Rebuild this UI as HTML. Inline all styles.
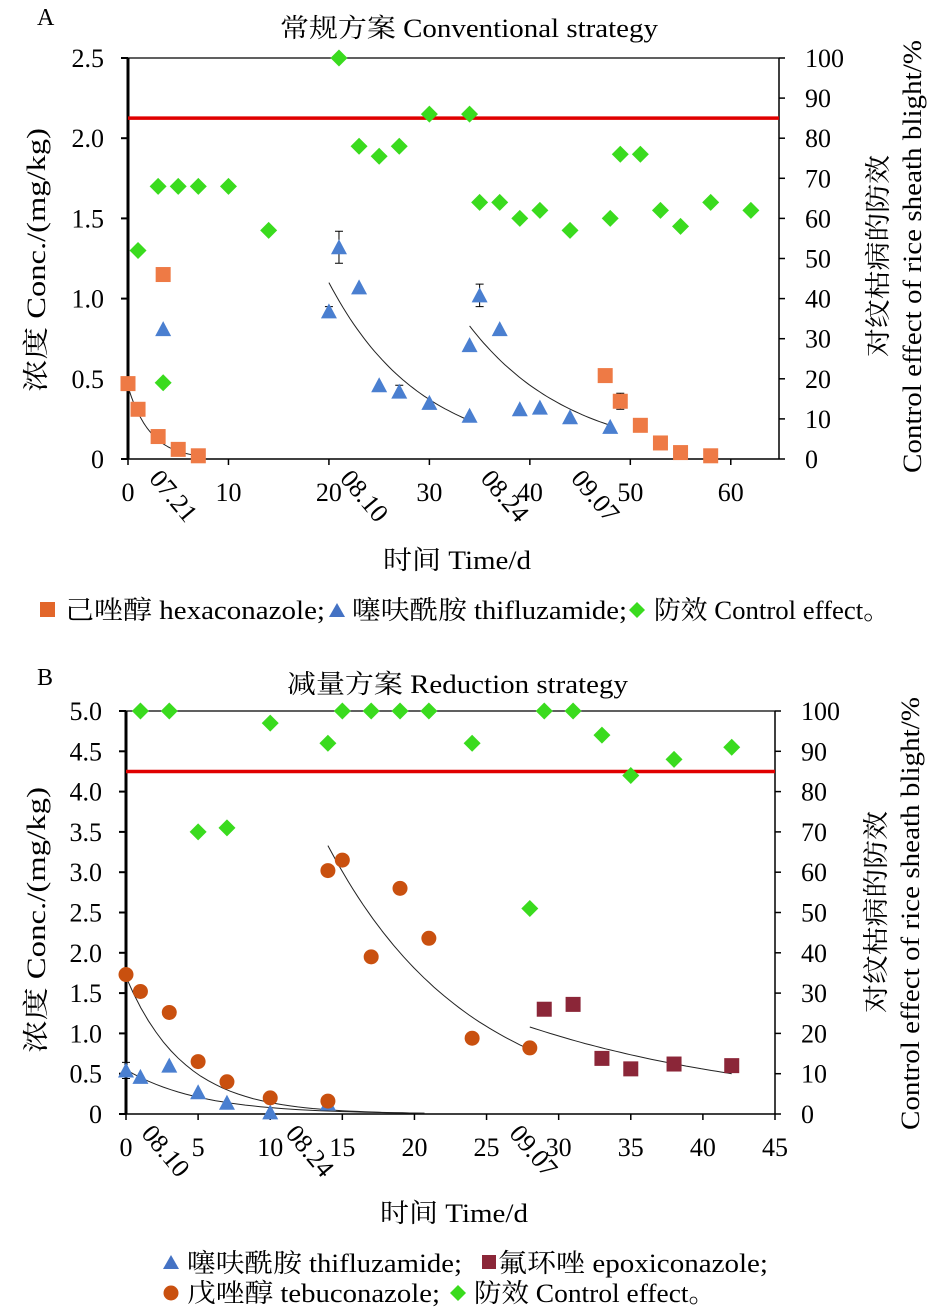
<!DOCTYPE html>
<html><head><meta charset="utf-8"><style>
body{margin:0;background:#fff}
svg{display:block;font-family:"Liberation Serif","Noto Serif CJK SC","Noto Sans CJK SC",serif}
</style></head><body>
<svg id="s" width="945" height="1311" viewBox="0 0 945 1311">
<text x="37" y="25" font-size="24">A</text>
<text x="280" y="37" font-size="26" textLength="378" lengthAdjust="spacingAndGlyphs">常规方案 Conventional strategy</text>
<text x="37" y="685" font-size="24">B</text>
<text x="287" y="693" font-size="26" textLength="341" lengthAdjust="spacingAndGlyphs">减量方案 Reduction strategy</text>
<text transform="translate(45,392) rotate(-90)" font-size="26" textLength="264" lengthAdjust="spacingAndGlyphs">浓度 Conc./(mg/kg)</text>
<text transform="translate(887,357) rotate(-90)" font-size="26" textLength="202" lengthAdjust="spacingAndGlyphs">对纹枯病的防效</text>
<text transform="translate(921,473) rotate(-90)" font-size="26" textLength="433" lengthAdjust="spacingAndGlyphs">Control effect of rice sheath blight/%</text>
<text x="383" y="569" font-size="26" textLength="148" lengthAdjust="spacingAndGlyphs">时间 Time/d</text>
<text transform="translate(45,1053) rotate(-90)" font-size="26" textLength="266" lengthAdjust="spacingAndGlyphs">浓度 Conc./(mg/kg)</text>
<text transform="translate(885,1013) rotate(-90)" font-size="26" textLength="202" lengthAdjust="spacingAndGlyphs">对纹枯病的防效</text>
<text transform="translate(919,1130) rotate(-90)" font-size="26" textLength="433" lengthAdjust="spacingAndGlyphs">Control effect of rice sheath blight/%</text>
<text x="380" y="1222" font-size="26" textLength="148" lengthAdjust="spacingAndGlyphs">时间 Time/d</text>
<!-- legends -->
<rect x="40" y="602" width="15" height="15" fill="#E2662A"/>
<text x="65" y="619" font-size="26" textLength="260" lengthAdjust="spacingAndGlyphs">己唑醇 hexaconazole;</text>
<polygon points="337,603 345,617 329,617" fill="#4472C4"/>
<text x="352" y="619" font-size="26" textLength="275" lengthAdjust="spacingAndGlyphs">噻呋酰胺 thifluzamide;</text>
<polygon points="637,602 645,610 637,618 629,610" fill="#3ADB1E"/>
<text x="654" y="619" font-size="26" textLength="236" lengthAdjust="spacingAndGlyphs">防效 Control effect。</text>
<polygon points="171,1255 179,1269 163,1269" fill="#4472C4"/>
<text x="187" y="1272" font-size="26" textLength="275" lengthAdjust="spacingAndGlyphs">噻呋酰胺 thifluzamide;</text>
<rect x="482" y="1255" width="14" height="14" fill="#8B2638"/>
<text x="498" y="1272" font-size="26" textLength="270" lengthAdjust="spacingAndGlyphs">氟环唑 epoxiconazole;</text>
<circle cx="171" cy="1293" r="7.5" fill="#C9500F"/>
<text x="187" y="1302" font-size="26" textLength="253" lengthAdjust="spacingAndGlyphs">戊唑醇 tebuconazole;</text>
<polygon points="458,1285 466,1293 458,1301 450,1293" fill="#3ADB1E"/>
<text x="474" y="1302" font-size="26" textLength="242" lengthAdjust="spacingAndGlyphs">防效 Control effect。</text>
<g id="ga"></g><g id="gb"></g>
</svg>
<script>
// ---- Chart A data ----
const aHexX=[0,1,3,5,7,3.5,47.5,49,51,53,55,58];
const aHexY=[0.47,0.31,0.14,0.06,0.02,1.15,0.52,0.36,0.21,0.10,0.04,0.02];
const aHexErr=[0,0,0,0,0,0,0,0.05,0,0,0,0];
const aThiX=[3.5,20,21,23,25,27,30,34,34,35,37,39,41,44,48];
const aThiY=[0.81,0.92,1.32,1.07,0.46,0.42,0.35,0.27,0.71,1.02,0.81,0.31,0.32,0.26,0.20];
const aThiErr=[0,0.03,0.10,0,0,0.04,0,0,0,0.07,0,0,0,0,0];
const aCtlX=[1,3,5,7,10,14,3.5,21,23,25,27,30,34,35,37,39,41,44,48,49,51,53,55,58,62];
const aCtlY=[52,68,68,68,68,57,19,100,78,75.5,78,86,86,64,64,60,62,57,60,76,76,62,58,64,62];
const aXTicks=[0,10,20,30,40,50,60];
const aYTicks=[0,0.5,1.0,1.5,2.0,2.5];
const aRTicks=[0,10,20,30,40,50,60,70,80,90,100];
const aDates=["07.21","08.10","08.24","09.07"];
const aDateX=[2,21,35,44];
const aFitStart=[0,20,34];const aFitEnd=[7,34,48];const aFitC0=[0.45,1.1,0.83];const aFitEndY=[0.02,0.24,0.21];
const aThreshold=85;
// ---- Chart B data ----
const bThiX=[0,1,3,5,7,10,14];
const bThiY=[0.54,0.46,0.60,0.27,0.14,0.02,0.13];
const bThiErr=[0.1,0,0,0,0,0,0];
const bTebX=[0,1,3,5,7,10,14,14,15,17,19,21,24,28];
const bTebY=[1.73,1.52,1.26,0.65,0.40,0.20,0.16,3.02,3.15,1.95,2.80,2.18,0.94,0.82];
const bTebErr=[0,0,0,0,0,0,0,0,0,0,0.07,0,0,0];
const bEpoX=[29,31,33,35,38,42];
const bEpoY=[1.30,1.36,0.69,0.56,0.62,0.60];
const bCtlX=[1,3,5,7,10,14,15,17,19,21,24,28,29,31,33,35,38,42];
const bCtlY=[100,100,70,71,97,92,100,100,100,100,92,51,100,100,94,84,88,91];
const bXTicks=[0,5,10,15,20,25,30,35,40,45];
const bYTicks=[0,0.5,1.0,1.5,2.0,2.5,3.0,3.5,4.0,4.5,5.0];
const bRTicks=[0,10,20,30,40,50,60,70,80,90,100];
const bDates=["08.10","08.24","09.07"];
const bDateX=[1,11,26.5];
const bFitStart=[0,0,14,28];const bFitEnd=[20.7,20.7,28,42];const bFitC0=[1.7,0.55,3.33,1.08];const bFitEndY=[0.01,0.01,0.8,0.5];
const bThreshold=85;

const NS="http://www.w3.org/2000/svg";
function mk(p,tag,at,txt){const e=document.createElementNS(NS,tag);for(const k in at)e.setAttribute(k,at[k]);if(txt!==undefined)e.textContent=txt;p.appendChild(e);return e;}

function chart(g,o){
  const X=v=>o.x0+(v-o.xmin)/(o.xmax-o.xmin)*(o.x1-o.x0);
  const Y=v=>o.y0-(v/o.ymax)*(o.y0-o.y1);
  const R=v=>o.y0-(v/100)*(o.y0-o.y1);
  let e;
  e=mk(g,'line',{x1:o.x0,y1:o.y1,x2:o.x1,y2:o.y1,stroke:'#000','stroke-width':1.2});
  
  e=mk(g,'line',{x1:o.x0,y1:o.y0,x2:o.x1,y2:o.y0,stroke:'#000','stroke-width':1.5});
  
  e=mk(g,'line',{x1:o.x1,y1:o.y0,x2:o.x1,y2:o.y1,stroke:'#000','stroke-width':1.5});
  
  e=mk(g,'line',{x1:o.x0,y1:o.y0,x2:o.x0,y2:o.y1,stroke:'#000','stroke-width':3});
  
  o.yt.forEach(v=>{
    e=mk(g,'line',{x1:o.x0-7,y1:Y(v),x2:o.x0,y2:Y(v),stroke:'#000','stroke-width':2});
    
    e=mk(g,'text',{x:o.x0-24,y:Y(v)+9,'font-size':26,'text-anchor':'end'},o.yfmt(v));
    
  });
  o.rt.forEach(v=>{
    e=mk(g,'line',{x1:o.x1,y1:R(v),x2:o.x1+6,y2:R(v),stroke:'#000','stroke-width':1.5});
    
    e=mk(g,'text',{x:o.x1+o.rlx,y:R(v)+9,'font-size':26},String(v));
    
  });
  o.xt.forEach(v=>{
    e=mk(g,'line',{x1:X(v),y1:o.y0,x2:X(v),y2:o.y0+6,stroke:'#000','stroke-width':1.5});
    
    e=mk(g,'text',{x:X(v),y:o.y0+42,'font-size':26,'text-anchor':'middle'},String(v));
    
  });
  o.dates.forEach((d,i)=>{
    const x=X(o.dateX[i]),y=o.y0+20;
    e=mk(g,'text',{x:0,y:0,'font-size':26,transform:`translate(${x},${y}) rotate(50)`},d);
    
  });
  e=mk(g,'line',{x1:o.x0,y1:R(o.thr),x2:o.x1,y2:R(o.thr),stroke:'#E00000','stroke-width':3.5});
  
  o.fits.s.forEach((s,i)=>{
    const en=o.fits.e[i],c0=o.fits.c[i],k=Math.log(c0/o.fits.ey[i])/(en-s);
    let d='';for(let j=0;j<=40;j++){const x=s+(en-s)*j/40;d+=(j?'L':'M')+X(x).toFixed(1)+','+Y(c0*Math.exp(-k*(x-s))).toFixed(1);}
    e=mk(g,'path',{d:d,fill:'none',stroke:'#222','stroke-width':1});
    
  });
  o.series.forEach(sr=>{
    sr.x.forEach((xv,i)=>{
      const cx=X(xv),cy=sr.right?R(sr.y[i]):Y(sr.y[i]);
      if(sr.err&&sr.err[i]){
        const t=Y(sr.y[i]+sr.err[i]),b=Y(sr.y[i]-sr.err[i]);
        e=mk(g,'path',{d:`M${cx},${t}V${b}M${cx-4},${t}H${cx+4}M${cx-4},${b}H${cx+4}`,stroke:'#000','stroke-width':1,fill:'none'});
        
      }
      let m;
      if(sr.shape==='sq')m=mk(g,'rect',{x:cx-7.5,y:cy-7.5,width:15,height:15,fill:sr.col});
      else if(sr.shape==='tri')m=mk(g,'polygon',{points:`${cx},${cy-8} ${cx+8},${cy+7} ${cx-8},${cy+7}`,fill:sr.col});
      else if(sr.shape==='dia')m=mk(g,'polygon',{points:`${cx},${cy-8.5} ${cx+8.5},${cy} ${cx},${cy+8.5} ${cx-8.5},${cy}`,fill:sr.col});
      else m=mk(g,'circle',{cx:cx,cy:cy,r:7.5,fill:sr.col});
      
      
    });
  });
}
chart(document.getElementById('ga'),{x0:128,x1:779,xmin:0,xmax:64.8,y0:459,y1:58,ymax:2.5,rlx:26,
  yt:aYTicks,rt:aRTicks,xt:aXTicks,yfmt:v=>v===0?'0':v.toFixed(1),dates:aDates,dateX:aDateX,thr:aThreshold,
  fits:{s:aFitStart,e:aFitEnd,c:aFitC0,ey:aFitEndY},
  series:[{x:aCtlX,y:aCtlY,right:true,shape:'dia',col:'#3ADB1E',name:'control-effect-point'},
    {x:aHexX,y:aHexY,err:aHexErr,shape:'sq',col:'#EE7A45',name:'hexaconazole-point'},
    {x:aThiX,y:aThiY,err:aThiErr,shape:'tri',col:'#4A7FD0',name:'thifluzamide-point'}]});
chart(document.getElementById('gb'),{x0:126,x1:775,xmin:0,xmax:45,y0:1114,y1:711,ymax:5,rlx:26,
  yt:bYTicks,rt:bRTicks,xt:bXTicks,yfmt:v=>v===0?'0':v.toFixed(1),dates:bDates,dateX:bDateX,thr:bThreshold,
  fits:{s:bFitStart,e:bFitEnd,c:bFitC0,ey:bFitEndY},
  series:[{x:bCtlX,y:bCtlY,right:true,shape:'dia',col:'#3ADB1E',name:'control-effect-point'},
    {x:bThiX,y:bThiY,err:bThiErr,shape:'tri',col:'#4A7FD0',name:'thifluzamide-point'},
    {x:bTebX,y:bTebY,err:bTebErr,shape:'circ',col:'#C9500F',name:'tebuconazole-point'},
    {x:bEpoX,y:bEpoY,shape:'sq',col:'#8B2638',name:'epoxiconazole-point'}]});
</script>
</body></html>
